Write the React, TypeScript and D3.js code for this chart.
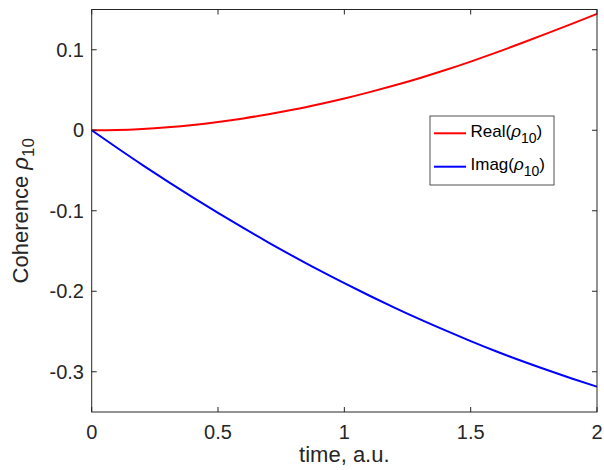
import React from "react";
import * as d3 from "d3";

const timeValues = [0, 0.1, 0.2, 0.3, 0.4, 0.5, 0.6, 0.7, 0.8, 0.9, 1.0, 1.1, 1.2, 1.3, 1.4, 1.5, 1.6, 1.7, 1.8, 1.9, 2.0];
const realValues = [0, 0.0004, 0.0017, 0.0038, 0.0066, 0.0103, 0.0147, 0.0199, 0.0257, 0.0323, 0.0395, 0.0474, 0.0559, 0.065, 0.0748, 0.0853, 0.0964, 0.108, 0.12, 0.1322, 0.1445];
const imagValues = [0, -0.0218, -0.043, -0.0634, -0.0834, -0.1027, -0.1214, -0.1395, -0.1569, -0.1738, -0.19, -0.2056, -0.2206, -0.235, -0.2487, -0.2619, -0.2745, -0.2864, -0.2976, -0.3083, -0.3185];
const xTicks = [0, 0.5, 1, 1.5, 2];
const xTickLabels = ["0", "0.5", "1", "1.5", "2"];
const yTicks = [-0.3, -0.2, -0.1, 0, 0.1];
const yTickLabels = ["-0.3", "-0.2", "-0.1", "0", "0.1"];
const seriesNames = ["Real", "Imag"];
const seriesColors = ["#ff0000", "#0000ff"];

const W = 604, H = 470;
const L = 91.7, R = 597, T = 9.5, B = 412;
const AX = "#262626";
const FONT = "'Liberation Sans', Arial, Helvetica, sans-serif";

export default function App() {
  const x = d3.scaleLinear().domain([0, 2]).range([L, R]);
  const y = d3.scaleLinear().domain([-0.35, 0.15]).range([B, T]);
  const line = d3.line<number>().x((_, i) => x(timeValues[i])).y((d) => y(d)).curve(d3.curveMonotoneX);
  const series = [realValues, imagValues];
  const tl = 5;
  const legX = 430, legY = 116, legW = 124, legH = 69;
  return (
    <div style={{ position: "absolute", left: 0, top: 0 }}>
      <svg width={W} height={H} style={{ display: "block", background: "#fff" }} fontFamily={FONT}>
        <rect x={0} y={0} width={W} height={H} fill="#fff" />
        {series.map((s, i) => (
          <path key={i} d={line(s) || ""} fill="none" stroke={seriesColors[i]} strokeWidth={2} />
        ))}
        <rect x={L} y={T} width={R - L} height={B - T} fill="none" stroke={AX} strokeWidth={1} />
        {xTicks.map((t, i) => (
          <g key={"x" + i}>
            <line x1={x(t)} x2={x(t)} y1={B} y2={B - tl} stroke={AX} />
            <line x1={x(t)} x2={x(t)} y1={T} y2={T + tl} stroke={AX} />
            <text x={x(t)} y={439} textAnchor="middle" fontSize={20} fill={AX}>{xTickLabels[i]}</text>
          </g>
        ))}
        {yTicks.map((t, i) => (
          <g key={"y" + i}>
            <line x1={L} x2={L + tl} y1={y(t)} y2={y(t)} stroke={AX} />
            <line x1={R} x2={R - tl} y1={y(t)} y2={y(t)} stroke={AX} />
            <text x={84} y={y(t)} dy="0.35em" textAnchor="end" fontSize={20} fill={AX}>{yTickLabels[i]}</text>
          </g>
        ))}
        <text x={(L + R) / 2} y={462} textAnchor="middle" fontSize={22} fill={AX}>time, a.u.</text>
        <text transform={`translate(28,${(T + B) / 2}) rotate(-90)`} textAnchor="middle" fontSize={22} fill={AX}>
          Coherence <tspan fontStyle="italic">ρ</tspan><tspan fontSize={17} dy={6}>10</tspan>
        </text>
        <rect x={legX} y={legY} width={legW} height={legH} fill="#fff" stroke={AX} strokeWidth={0.8} />
        {seriesNames.map((n, i) => {
          const cy = legY + 17.3 + i * 33.4;
          return (
            <g key={"l" + i}>
              <line x1={434} x2={466} y1={cy} y2={cy} stroke={seriesColors[i]} strokeWidth={2} />
              <text x={470.5} y={cy + 3.5} fontSize={17} fill="#000">
                {n}(<tspan fontStyle="italic">ρ</tspan><tspan fontSize={14} dy={6}>10</tspan><tspan dy={-6}>)</tspan>
              </text>
            </g>
          );
        })}
      </svg>
    </div>
  );
}
